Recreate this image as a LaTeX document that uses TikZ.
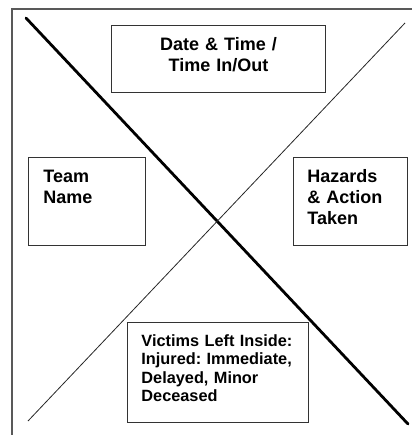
\documentclass[tikz,border=0pt]{standalone}
\usepackage{fontspec}
\setmainfont{Liberation Sans}
\usepackage{xcolor}
\usepackage{tikz}
\usetikzlibrary{positioning}
\frenchspacing

\begin{document}
\begin{tikzpicture}[
  x=1pt, y=-1pt,
  font=\fontsize{18}{21}\selectfont\bfseries,
  field/.style={draw=black!80, line width=0.9pt, fill=white, anchor=north west, align=left, inner ysep=0pt},
  frame/.style={draw=black!65, line width=1.3pt},
  heavy/.style={line width=2.8pt, line cap=round},
  light/.style={line width=0.8pt, draw=black!85},
]
  \useasboundingbox (0,0) rectangle (411,435);

  % page frame, open to the right and bottom
  \draw[frame] (12,436) -- (12,9) -- (412,9);

  % the two diagonals of the X
  \coordinate (tl) at (26,18);
  \coordinate (br) at (408,424);
  \coordinate (tr) at (405,23);
  \coordinate (bl) at (28,421);
  \draw[heavy] (tl) -- (br);
  \draw[light] (tr) -- (bl);

  % fields in the four quarters
  \node[field, align=center, inner xsep=0pt, text width=214pt, text height=25pt, text depth=42pt] (datetime) at (111,25)
    {Date \& Time /\\Time In/Out};
  \node[field, inner xsep=15pt, text width=87pt, text height=25pt, text depth=63pt] (team) at (28,157)
    {Team\\Name};
  \node[field, inner xsep=14pt, text width=86pt, text height=25pt, text depth=63pt] (hazards) at (293,157)
    {Hazards\\\&~Action\\Taken};
  \node[field, font=\fontsize{16.3}{18.5}\selectfont\bfseries, inner xsep=14pt, text width=153pt, text height=24pt, text depth=76pt] (victims) at (127,322)
    {\hyphenpenalty=10000 Victims~Left~Inside:\\Injured:~Immediate,\\Delayed,~Minor\\Deceased};
\end{tikzpicture}
\end{document}
